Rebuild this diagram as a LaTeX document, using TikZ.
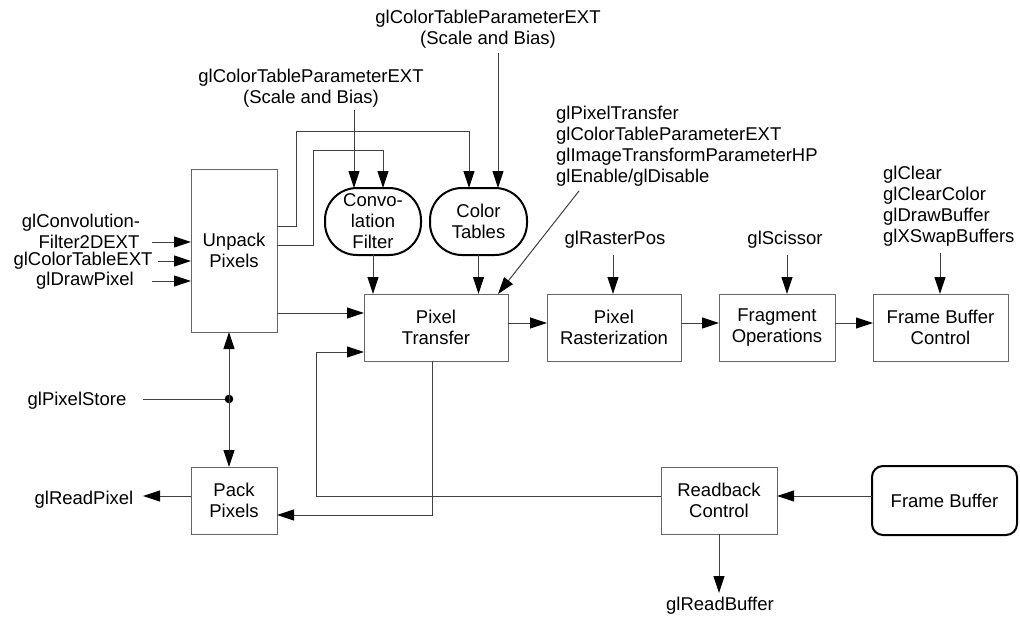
\documentclass[tikz,border=0pt]{standalone}
\usepackage{fontspec}
\setmainfont{Liberation Sans}
\usetikzlibrary{arrows.meta}
\begin{document}
\begin{tikzpicture}[x=1pt,y=-1pt,
  font=\fontsize{18.5}{21}\selectfont,
  box/.style={draw=black!60, line width=1pt, minimum height=67pt, align=center, inner sep=0pt, outer sep=0pt},
  blob/.style={draw=black, line width=2pt, rounded corners=32pt, minimum width=96pt, minimum height=67pt, align=center, inner sep=0pt, outer sep=0pt},
  store/.style={draw=black, line width=2pt, rounded corners=11pt, minimum width=145pt, minimum height=69pt, align=center, inner sep=0pt, outer sep=0pt},
  lbl/.style={inner sep=0pt, align=center},
  lbll/.style={inner sep=0pt, align=left, anchor=west},
  wire/.style={draw=black!75, line width=1pt},
  arr/.style={wire, -{Triangle[length=17pt,width=11pt,color=black]}},
]
\useasboundingbox (0,0) rectangle (1020,616);

% processing stages
\node[box, minimum width=86pt, minimum height=163pt] (unpack) at (234,250.5) {Unpack\\Pixels};
\node[box, minimum width=86pt] (pack) at (234,500.5) {Pack\\Pixels};
\node[box, minimum width=144pt] (xfer) at (436,327.5) {Pixel\\Transfer};
\node[box, minimum width=134pt] (raster) at (614,327.5) {Pixel\\Rasterization};
\node[box, minimum width=116pt] (frag) at (777,327.5) {Fragment\\Operations};
\node[box, minimum width=135pt] (fbc) at (940.5,327.5) {Frame Buffer\\Control};
\node[box, minimum width=116pt] (readback) at (719,500.5) {Readback\\Control};
\node[store] (fb) at (944.5,500.5) {Frame Buffer};
\node[blob] (conv) at (373,221.5) {Convo-\\lation\\Filter};
\node[blob, minimum width=97pt] (ctab) at (478.5,221.5) {Color\\Tables};

% command labels
\node[lbl] (ctpA) at (488,29) {glColorTableParameterEXT\\(Scale and Bias)};
\node[lbl] (ctpB) at (311,88.5) {glColorTableParameterEXT\\(Scale and Bias)};
\node[lbll] (ptgrp) at (556,146.5) {glPixelTransfer\\glColorTableParameterEXT\\glImageTransformParameterHP\\glEnable/glDisable};
\node[lbll] (fbcgrp) at (883,206.5) {glClear\\glClearColor\\glDrawBuffer\\glXSwapBuffers};
\node[lbl] (lrp) at (615,240) {glRasterPos};
\node[lbl] (lsc) at (785,240) {glScissor};
\node[lbl] (lcf1) at (81,223) {glConvolution-};
\node[lbl] (lcf2) at (89,242) {Filter2DEXT};
\node[lbl] (lcte) at (83,261) {glColorTableEXT};
\node[lbl] (ldp) at (85,281) {glDrawPixel};
\node[lbl] (lps) at (77,401) {glPixelStore};
\node[lbl] (lrpx) at (84,500) {glReadPixel};
\node[lbl] (lrb) at (720,606) {glReadBuffer};

% free ends of the command arrows
\coordinate (sA) at (498,53);
\coordinate (sB) at (354,110);
\coordinate (sPT) at (579,191);
\coordinate (sRP) at (613,255);
\coordinate (sSC) at (787,255);
\coordinate (sFB) at (940,253);
\coordinate (sCF) at (152,242);
\coordinate (sCT) at (158,261);
\coordinate (sDP) at (152,281);
\coordinate (ePS) at (143,399);
\coordinate (eRP) at (143,496);
\coordinate (eRB) at (719,593);
\coordinate (jn) at (229,399);

% inputs into the stages
\draw[arr] (sA) -- (ctab.north -| sA);
\draw[arr] (sB) -- (conv.north -| sB);
\draw[arr] (sPT) -- (xfer.north -| 498,0);
\draw[arr] (sRP) -- (raster.north -| sRP);
\draw[arr] (sSC) -- (frag.north -| sSC);
\draw[arr] (sFB) -- (fbc.north -| sFB);
\draw[arr] (sCF) -- (unpack.west |- sCF);
\draw[arr] (sCT) -- (unpack.west |- sCT);
\draw[arr] (sDP) -- (unpack.west |- sDP);

% unpack feeds the tables
\draw[arr] (unpack.east |- 0,226) -- (296,226) |- (469,131) -- (ctab.north -| 469,0);
\draw[arr] (unpack.east |- 0,245) -- (313,245) |- (383,150) -- (conv.north -| 383,0);
\draw[arr] (conv.south) -- (conv.south |- xfer.north);
\draw[arr] (ctab.south) -- (ctab.south |- xfer.north);

% main pipeline
\draw[arr] (unpack.east |- 0,313) -- (xfer.west |- 0,313);
\draw[arr] (xfer.east |- 0,323) -- (raster.west |- 0,323);
\draw[arr] (raster.east |- 0,323) -- (frag.west |- 0,323);
\draw[arr] (frag.east |- 0,323) -- (fbc.west |- 0,323);

% readback path
\draw[arr] (fb.west |- 0,496) -- (readback.east |- 0,496);
\draw[arr] (readback.south) -- (eRB);
\draw[arr] (readback.west |- 0,496) -- (316,496) |- (xfer.west |- 0,352);
\draw[arr] (xfer.south -| 432,0) -- (432,515) -- (pack.east |- 0,515);
\draw[arr] (pack.west |- eRP) -- (eRP);

% pixel store settings
\draw[wire] (ePS) -- (jn);
\fill (jn) circle (4.3pt);
\draw[arr] (jn) -- (unpack.south -| jn);
\draw[arr] (jn) -- (pack.north -| jn);
\end{tikzpicture}
\end{document}
